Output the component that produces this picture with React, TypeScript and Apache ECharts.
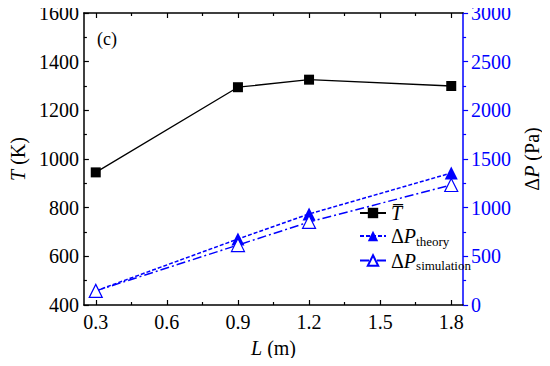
import React, { useEffect, useRef } from "react";
import * as echarts from "echarts";

const L = [0.3, 0.9, 1.2, 1.8];
const T = [945, 1295, 1326, 1300];
const dPTheory = [145, 678, 935, 1356];
const dPSim = [145, 616, 853, 1233];
const xMajor = [0.3, 0.6, 0.9, 1.2, 1.5, 1.8];
const xMinor = [0.45, 0.75, 1.05, 1.35, 1.65];

const FONT = "Liberation Serif";
const BLUE = "#0000ff";
const FS = 20;

export default function App() {
  const ref = useRef<HTMLDivElement>(null);
  useEffect(() => {
    const chart = echarts.init(ref.current!, null, { renderer: "svg" });
    const pairs = (ys: number[]) => L.map((x, i) => [x, ys[i]]);
    const xBase = {
      type: "value",
      min: 0.25,
      max: 1.85,
      splitLine: { show: false },
    };
    const richBase = {
      i: { fontStyle: "italic", fontSize: FS, fontFamily: FONT, color: "#000" },
      n: { fontStyle: "normal", fontSize: FS, fontFamily: FONT, color: "#000" },
    };
    chart.setOption({
      animation: false,
      textStyle: { fontFamily: FONT },
      title: {
        text: "(c)",
        left: 92,
        top: 25,
        textStyle: { fontFamily: FONT, fontSize: 18, fontWeight: "normal", color: "#000" },
      },
      grid: { left: 76, right: 82, top: 13, bottom: 61, containLabel: false },
      xAxis: [
        {
          ...xBase,
          position: "bottom",
          axisLine: { lineStyle: { color: "#000", width: 1.5 } },
          axisTick: { inside: true, length: 5, customValues: xMajor, lineStyle: { color: "#000", width: 1.2 } },
          axisLabel: {
            customValues: xMajor,
            formatter: (v: number) => v.toFixed(1),
            color: "#000",
            fontSize: FS,
            fontFamily: FONT,
            margin: 7,
          },
          name: "{i|L}{n| (m)}",
          nameLocation: "middle",
          nameGap: 33,
          nameTextStyle: { color: "#000", fontSize: FS, fontFamily: FONT, rich: richBase },
        },
        {
          ...xBase,
          position: "bottom",
          axisLine: { show: false },
          axisTick: { inside: true, length: 3, customValues: xMinor, lineStyle: { color: "#000", width: 1.2 } },
          axisLabel: { show: false },
        },
        {
          ...xBase,
          position: "top",
          axisLine: { lineStyle: { color: "#000", width: 1.5 } },
          axisTick: { inside: true, length: 5, customValues: xMajor, lineStyle: { color: "#000", width: 1.2 } },
          axisLabel: { show: false },
        },
        {
          ...xBase,
          position: "top",
          axisLine: { show: false },
          axisTick: { inside: true, length: 3, customValues: xMinor, lineStyle: { color: "#000", width: 1.2 } },
          axisLabel: { show: false },
        },
      ],
      yAxis: [
        {
          type: "value",
          position: "left",
          min: 400,
          max: 1600,
          interval: 200,
          splitLine: { show: false },
          axisLine: { show: true, lineStyle: { color: "#000", width: 1.5 } },
          axisTick: { show: true, inside: true, length: 5, lineStyle: { color: "#000", width: 1.2 } },
          minorTick: { show: true, splitNumber: 2, length: 3, lineStyle: { color: "#000", width: 1.2 } },
          axisLabel: { color: "#000", fontSize: FS, fontFamily: FONT, margin: 5, formatter: (v: number) => String(v) },
          name: "{i|T}{n| (K)}",
          nameLocation: "middle",
          nameRotate: 90,
          nameGap: 54,
          nameTextStyle: { color: "#000", fontSize: FS, fontFamily: FONT, rich: richBase },
        },
        {
          type: "value",
          position: "right",
          min: 0,
          max: 3000,
          interval: 500,
          splitLine: { show: false },
          axisLine: { show: true, lineStyle: { color: BLUE, width: 1.5 } },
          axisTick: { show: true, inside: false, length: 5, lineStyle: { color: BLUE, width: 1.2 } },
          minorTick: { show: true, splitNumber: 2, length: 3, lineStyle: { color: BLUE, width: 1.2 } },
          axisLabel: { color: BLUE, fontSize: FS, fontFamily: FONT, margin: 8, formatter: (v: number) => String(v) },
          name: "{n|Δ}{i|P}{n| (Pa)}",
          nameLocation: "middle",
          nameRotate: 90,
          nameGap: 53,
          nameTextStyle: { color: "#000", fontSize: FS, fontFamily: FONT, rich: richBase },
        },
      ],
      legend: {
        orient: "vertical",
        left: 354,
        top: 198,
        itemWidth: 26,
        itemHeight: 13,
        itemGap: 3,
        textStyle: {
          fontFamily: FONT,
          fontSize: FS,
          color: "#000",
          rich: {
            ...richBase,
            s: { fontSize: 13, fontFamily: FONT, color: "#000", verticalAlign: "bottom", padding: [10, 0, 0, 0] },
          },
        },
        formatter: (name: string) => {
          if (name === "T") return "{i|T\u0305}";
          if (name === "theory") return "{n|Δ}{i|P}{s|theory}";
          return "{n|Δ}{i|P}{s|simulation}";
        },
        data: ["T", "theory", "simulation"],
      },
      series: [
        {
          name: "T",
          type: "line",
          xAxisIndex: 0,
          yAxisIndex: 0,
          data: pairs(T),
          symbol: "rect",
          symbolSize: 10,
          itemStyle: { color: "#000" },
          lineStyle: { color: "#000", width: 1.3 },
        },
        {
          name: "theory",
          type: "line",
          xAxisIndex: 0,
          yAxisIndex: 1,
          data: pairs(dPTheory),
          symbol: "triangle",
          symbolSize: 13,
          itemStyle: { color: BLUE },
          lineStyle: { color: BLUE, width: 1.5, type: [4, 2] },
        },
        {
          name: "simulation",
          type: "line",
          xAxisIndex: 0,
          yAxisIndex: 1,
          data: pairs(dPSim),
          symbol: "triangle",
          symbolSize: 13,
          itemStyle: { color: "#fff", borderColor: BLUE, borderWidth: 1.2 },
          lineStyle: { color: BLUE, width: 1.5, type: [9, 3, 2, 3] },
        },
      ],
    });
    return () => chart.dispose();
  }, []);
  return <div ref={ref} style={{ width: 550, height: 366, margin: -8 }} />;
}
